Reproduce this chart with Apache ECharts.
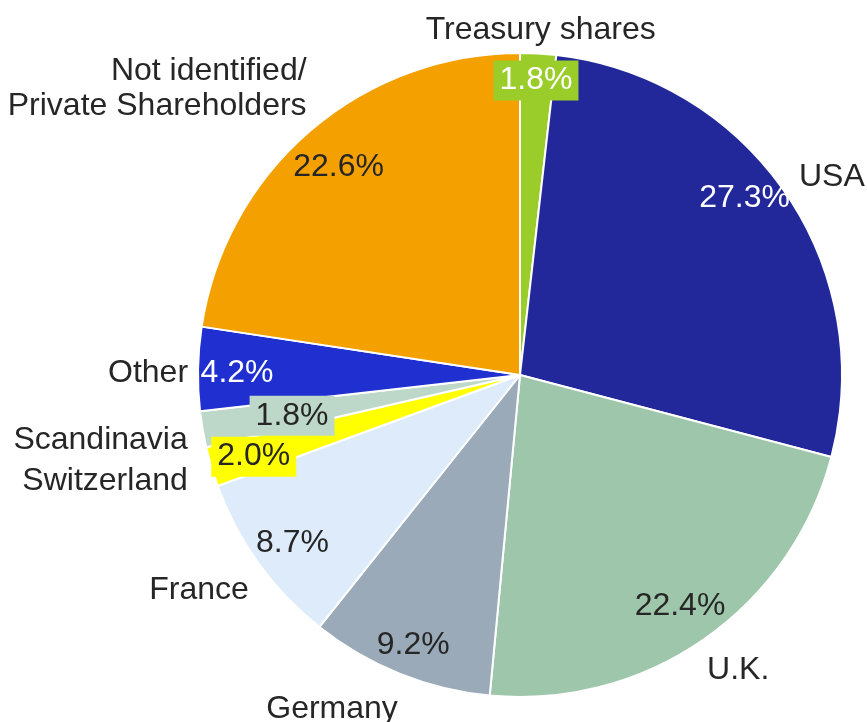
<!DOCTYPE html>
<html>
<head>
<meta charset="utf-8">
<script src="https://cdn.jsdelivr.net/npm/echarts@6/dist/echarts.min.js"></script>
<style>
  html, body { margin: 0; padding: 0; background: #fff; }
  #chart { width: 867px; height: 722px; }
</style>
</head>
<body>
<div id="chart"></div>
<script>
// shareholder structure by region, in %
const names = ['Treasury shares', 'USA', 'U.K.', 'Germany', 'France', 'Switzerland', 'Scandinavia', 'Other', 'Not identified/\nPrivate Shareholders']
const shares = [1.8, 27.3, 22.4, 9.2, 8.7, 2.0, 1.8, 4.2, 22.6]
const colors = ['#9ACD2A', '#22289A', '#9EC6AA', '#9AAAB8', '#DDEBFB', '#FFFF00', '#BDD8C8', '#1F2FD0', '#F4A100']

// label nudges (px) so labels sit where the original placed them
const nameNudge = [[-118, -13], [0, -10], [-8, 23], [7, 26], [3, 21], [-9, 12], [0, 9], [5, 4], [8, -35]]
const pctNudge = [[0, -12], [-9, -17], [-2, -1], [-1, 8], [2, 3], [5, 1], [51, -7], [0, 4], [3, 7]]

const pctStyle = {
  'Treasury shares': { color: '#fff', backgroundColor: '#9ACD2A', padding: [4, 6] },
  'USA': { color: '#fff' },
  'Other': { color: '#fff' },
  'Scandinavia': { backgroundColor: '#BDD8C8', padding: [4, 6] },
  'Switzerland': { backgroundColor: '#FFFF00', padding: [4, 6] }
}

const font = { fontFamily: '"Liberation Sans", Arial, sans-serif', fontSize: 32, color: '#262626' }

const chart = echarts.init(document.getElementById('chart'))

chart.setOption({
  animation: false,
  series: [
    {
      type: 'pie',
      center: [520, 375],
      radius: [0, 322],
      startAngle: 90,
      clockwise: true,
      avoidLabelOverlap: false,
      silent: true,
      itemStyle: { borderColor: '#fff', borderWidth: 2 },
      label: {
        show: true,
        position: 'outside',
        formatter: '{b}',
        lineHeight: 35,
        distanceToLabelLine: 5,
        ...font
      },
      labelLine: { show: false, length: 10, length2: 0 },
      labelLayout: (p) => ({ dx: nameNudge[p.dataIndex][0], dy: nameNudge[p.dataIndex][1] }),
      data: names.map((n, i) => ({ name: n, value: shares[i], itemStyle: { color: colors[i] } }))
    },
    {
      type: 'pie',
      center: [520, 375],
      radius: [238, 322],
      startAngle: 90,
      clockwise: true,
      avoidLabelOverlap: false,
      silent: true,
      itemStyle: { color: 'transparent', borderWidth: 0 },
      label: {
        show: true,
        position: 'inside',
        formatter: (p) => p.value.toFixed(1) + '%',
        ...font
      },
      labelLine: { show: false },
      labelLayout: (p) => ({ dx: pctNudge[p.dataIndex][0], dy: pctNudge[p.dataIndex][1] }),
      data: names.map((n, i) => ({ name: n, value: shares[i], label: pctStyle[n] || {} }))
    }
  ]
})
</script>
</body>
</html>
